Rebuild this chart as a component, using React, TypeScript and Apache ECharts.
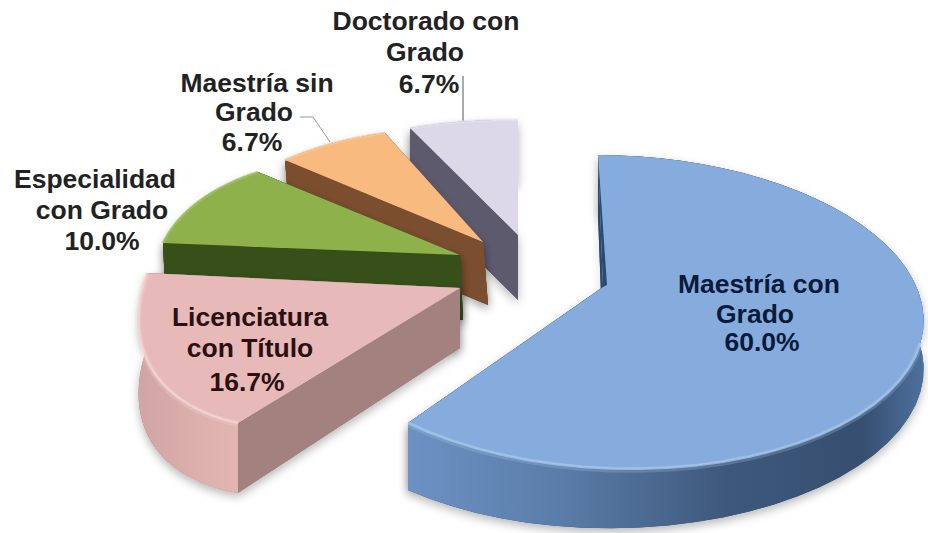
import React, { useEffect, useRef } from "react";
import * as echarts from "echarts";

// Data, clockwise from twelve o'clock
const categories = ["Maestría con Grado", "Licenciatura con Título", "Especialidad con Grado", "Maestría sin Grado", "Doctorado con Grado"];
const values = [60.0, 16.7, 10.0, 6.7, 6.7];
const labelLines = [["Maestría con", "Grado"], ["Licenciatura", "con Título"], ["Especialidad", "con Grado"], ["Maestría sin", "Grado"], ["Doctorado con", "Grado"]];

// Layout: perspective anchors of each exploded slice, in pixels
type P = [number, number];
const anchors: { apex: P; a: P; m: P; b: P; depth: number; slope: number; skew: number }[] = [
  { apex: [603, 287], a: [598, 155], m: [920.5, 343], b: [408, 423], depth: 60, slope: -0.036, skew: 0 },
  { apex: [460, 288], a: [238, 423], m: [158, 378], b: [147, 273], depth: 60, slope: -0.045, skew: 0 },
  { apex: [460, 255], a: [163, 243], m: [202, 199], b: [258, 172], depth: 65, slope: 0, skew: 3 },
  { apex: [483, 242], a: [285, 160], m: [334, 143], b: [385, 133], depth: 63, slope: 0, skew: 5 },
  { apex: [518, 235], a: [410, 128], m: [464, 121.5], b: [518, 120], depth: 65, slope: 0, skew: 0 },
];
const labelPos: P[][] = [
  [[759, 284], [755, 314], [762, 342]],
  [[250, 317], [250, 348], [247, 382]],
  [[95, 179], [102, 210], [102, 241]],
  [[257, 83], [254, 112], [252, 142]],
  [[426, 21], [425, 52], [429, 84]],
];
const labelFill = ["#0b1a3a", "#2a1010", "#222", "#222", "#222"];

const lg = (stops: [number, string][]) =>
  new echarts.graphic.LinearGradient(0, 0, 1, 0, stops.map(([offset, color]) => ({ offset, color })));
const faces = [
  { top: "#85ACDC", edge: "#A9C8EC", rim: [[0, "#6C92C4"], [0.3, "#5A7CA8"], [0.62, "#3E587C"], [0.88, "#364F70"], [1, "#4E709E"]], cut: "#2B4A70" },
  { top: "#E7B9B8", edge: "#F6D6D5", rim: [[0, "#D0A5A3"], [0.6, "#DDAFAD"], [1, "#E2B4B2"]], cut: "#A3817F" },
  { top: "#8FB14C", edge: "#A5C465", rim: [[0, "#37501A"], [1, "#37501A"]], cut: "#37501A" },
  { top: "#F9BA80", edge: "#FBCB9C", rim: [[0, "#7B4F2E"], [1, "#7B4F2E"]], cut: "#7A4E2E" },
  { top: "#DCD8E8", edge: "#E6E3EF", rim: [[0, "#5E5A6E"], [1, "#5E5A6E"]], cut: "#5E5A6E" },
];
const paintOrder = [4, 3, 2, 1, 0];
const shadow = { shadowBlur: 10, shadowColor: "rgba(0,0,0,0.28)", shadowOffsetY: 4 };

function solve(A: number[][], B: number[]): number[] {
  const n = B.length;
  const M = A.map((r, i) => [...r, B[i]]);
  for (let c = 0; c < n; c++) {
    let p = c;
    for (let r = c + 1; r < n; r++) if (Math.abs(M[r][c]) > Math.abs(M[p][c])) p = r;
    [M[c], M[p]] = [M[p], M[c]];
    for (let r = 0; r < n; r++) {
      if (r === c) continue;
      const f = M[r][c] / M[c][c];
      for (let k = c; k <= n; k++) M[r][k] -= f * M[c][k];
    }
  }
  return M.map((r, i) => r[n] / r[i]);
}
function homography(src: P[], dst: P[]) {
  const A: number[][] = [];
  const B: number[] = [];
  src.forEach(([x, y], i) => {
    const [u, v] = dst[i];
    A.push([x, y, 1, 0, 0, 0, -u * x, -u * y]);
    B.push(u);
    A.push([0, 0, 0, x, y, 1, -v * x, -v * y]);
    B.push(v);
  });
  const h = solve(A, B);
  return ([x, y]: P): P => {
    const w = h[6] * x + h[7] * y + 1;
    return [(h[0] * x + h[1] * y + h[2]) / w, (h[3] * x + h[4] * y + h[5]) / w];
  };
}
const unit = (deg: number): P => [Math.sin((deg * Math.PI) / 180), -Math.cos((deg * Math.PI) / 180)];
const total = values.reduce((s, v) => s + v, 0);

function renderItem(params: any) {
  const i = paintOrder[params.dataIndex];
  const start = (values.slice(0, i).reduce((s, v) => s + v, 0) / total) * 360;
  const end = start + (values[i] / total) * 360;
  const mid = (start + end) / 2;
  const g = anchors[i];
  const H = homography([[0, 0], unit(start), unit(mid), unit(end)], [g.apex, g.a, g.m, g.b]);
  const arc: P[] = [];
  for (let k = 0; k <= 48; k++) arc.push(H(unit(start + ((end - start) * k) / 48)));
  const down = ([x, y]: P): P => [x + g.skew, y + g.depth + g.slope * (x - g.apex[0])];
  const f = faces[i];
  const rimPts = [...arc, ...arc.map(down).reverse()];
  const quad = (p: P): P[] => [g.apex, p, down(p), down(g.apex)];
  const edgePts = arc.slice(i === 0 ? 24 : 0);
  const children: any[] = [
    // soft shadow layer
    { type: "polygon", shape: { points: rimPts }, style: { fill: f.cut, ...shadow } },
    { type: "polygon", shape: { points: quad(arc[0]) }, style: { fill: f.cut, ...shadow } },
    { type: "polygon", shape: { points: quad(arc[48]) }, style: { fill: f.cut, ...shadow } },
    // faces, back to front
    { type: "polygon", shape: { points: quad(arc[48]) }, style: { fill: f.cut } },
    { type: "polygon", shape: { points: rimPts }, style: { fill: lg(f.rim as any) } },
    { type: "polygon", shape: { points: quad(arc[0]) }, style: { fill: f.cut } },
    { type: "polygon", shape: { points: [g.apex, ...arc] }, style: { fill: f.top } },
  ];
  if (i <= 1) {
    children.push({ type: "polyline", shape: { points: edgePts.map(([x, y]) => [x, y + 1]) }, style: { stroke: f.edge, lineWidth: 6, fill: "none", opacity: 0.25 } });
  }
  children.push({ type: "polyline", shape: { points: edgePts }, style: { stroke: f.edge, lineWidth: 2.5, fill: "none", opacity: 0.75 } });
  if (i === 0) {
    children.push({ type: "polygon", shape: { points: [arc[0], [g.apex[0] + 4, g.apex[1] - 2], g.apex] }, style: { fill: f.cut } });
  }
  const lines = [...labelLines[i], `${values[i].toFixed(1)}%`];
  lines.forEach((text, n) => {
    const [x, y] = labelPos[i][n];
    children.push({
      type: "text",
      style: { text, x, y, fill: labelFill[i], font: 'bold 26.5px "Liberation Sans"', textAlign: "center", textVerticalAlign: "middle" },
    });
  });
  return { type: "group", children };
}

export default function App() {
  const ref = useRef<HTMLDivElement>(null);
  useEffect(() => {
    const chart = echarts.init(ref.current!, undefined, { renderer: "svg" });
    chart.setOption({
      animation: false,
      backgroundColor: "#fff",
      graphic: [
        { type: "polyline", z: 1, shape: { points: [[300, 117], [313, 117], [330, 142]] }, style: { stroke: "#999", lineWidth: 1, fill: "none" } },
        { type: "line", z: 1, shape: { x1: 463, y1: 76, x2: 463, y2: 122 }, style: { stroke: "#555", lineWidth: 1 } },
      ],
      series: [
        {
          type: "custom",
          coordinateSystem: "none",
          renderItem,
          data: paintOrder.map((i) => ({ name: categories[i], value: values[i] })),
        },
      ],
    });
    return () => chart.dispose();
  }, []);
  return <div ref={ref} style={{ position: "fixed", left: 0, top: 0, width: 928, height: 533 }} />;
}
